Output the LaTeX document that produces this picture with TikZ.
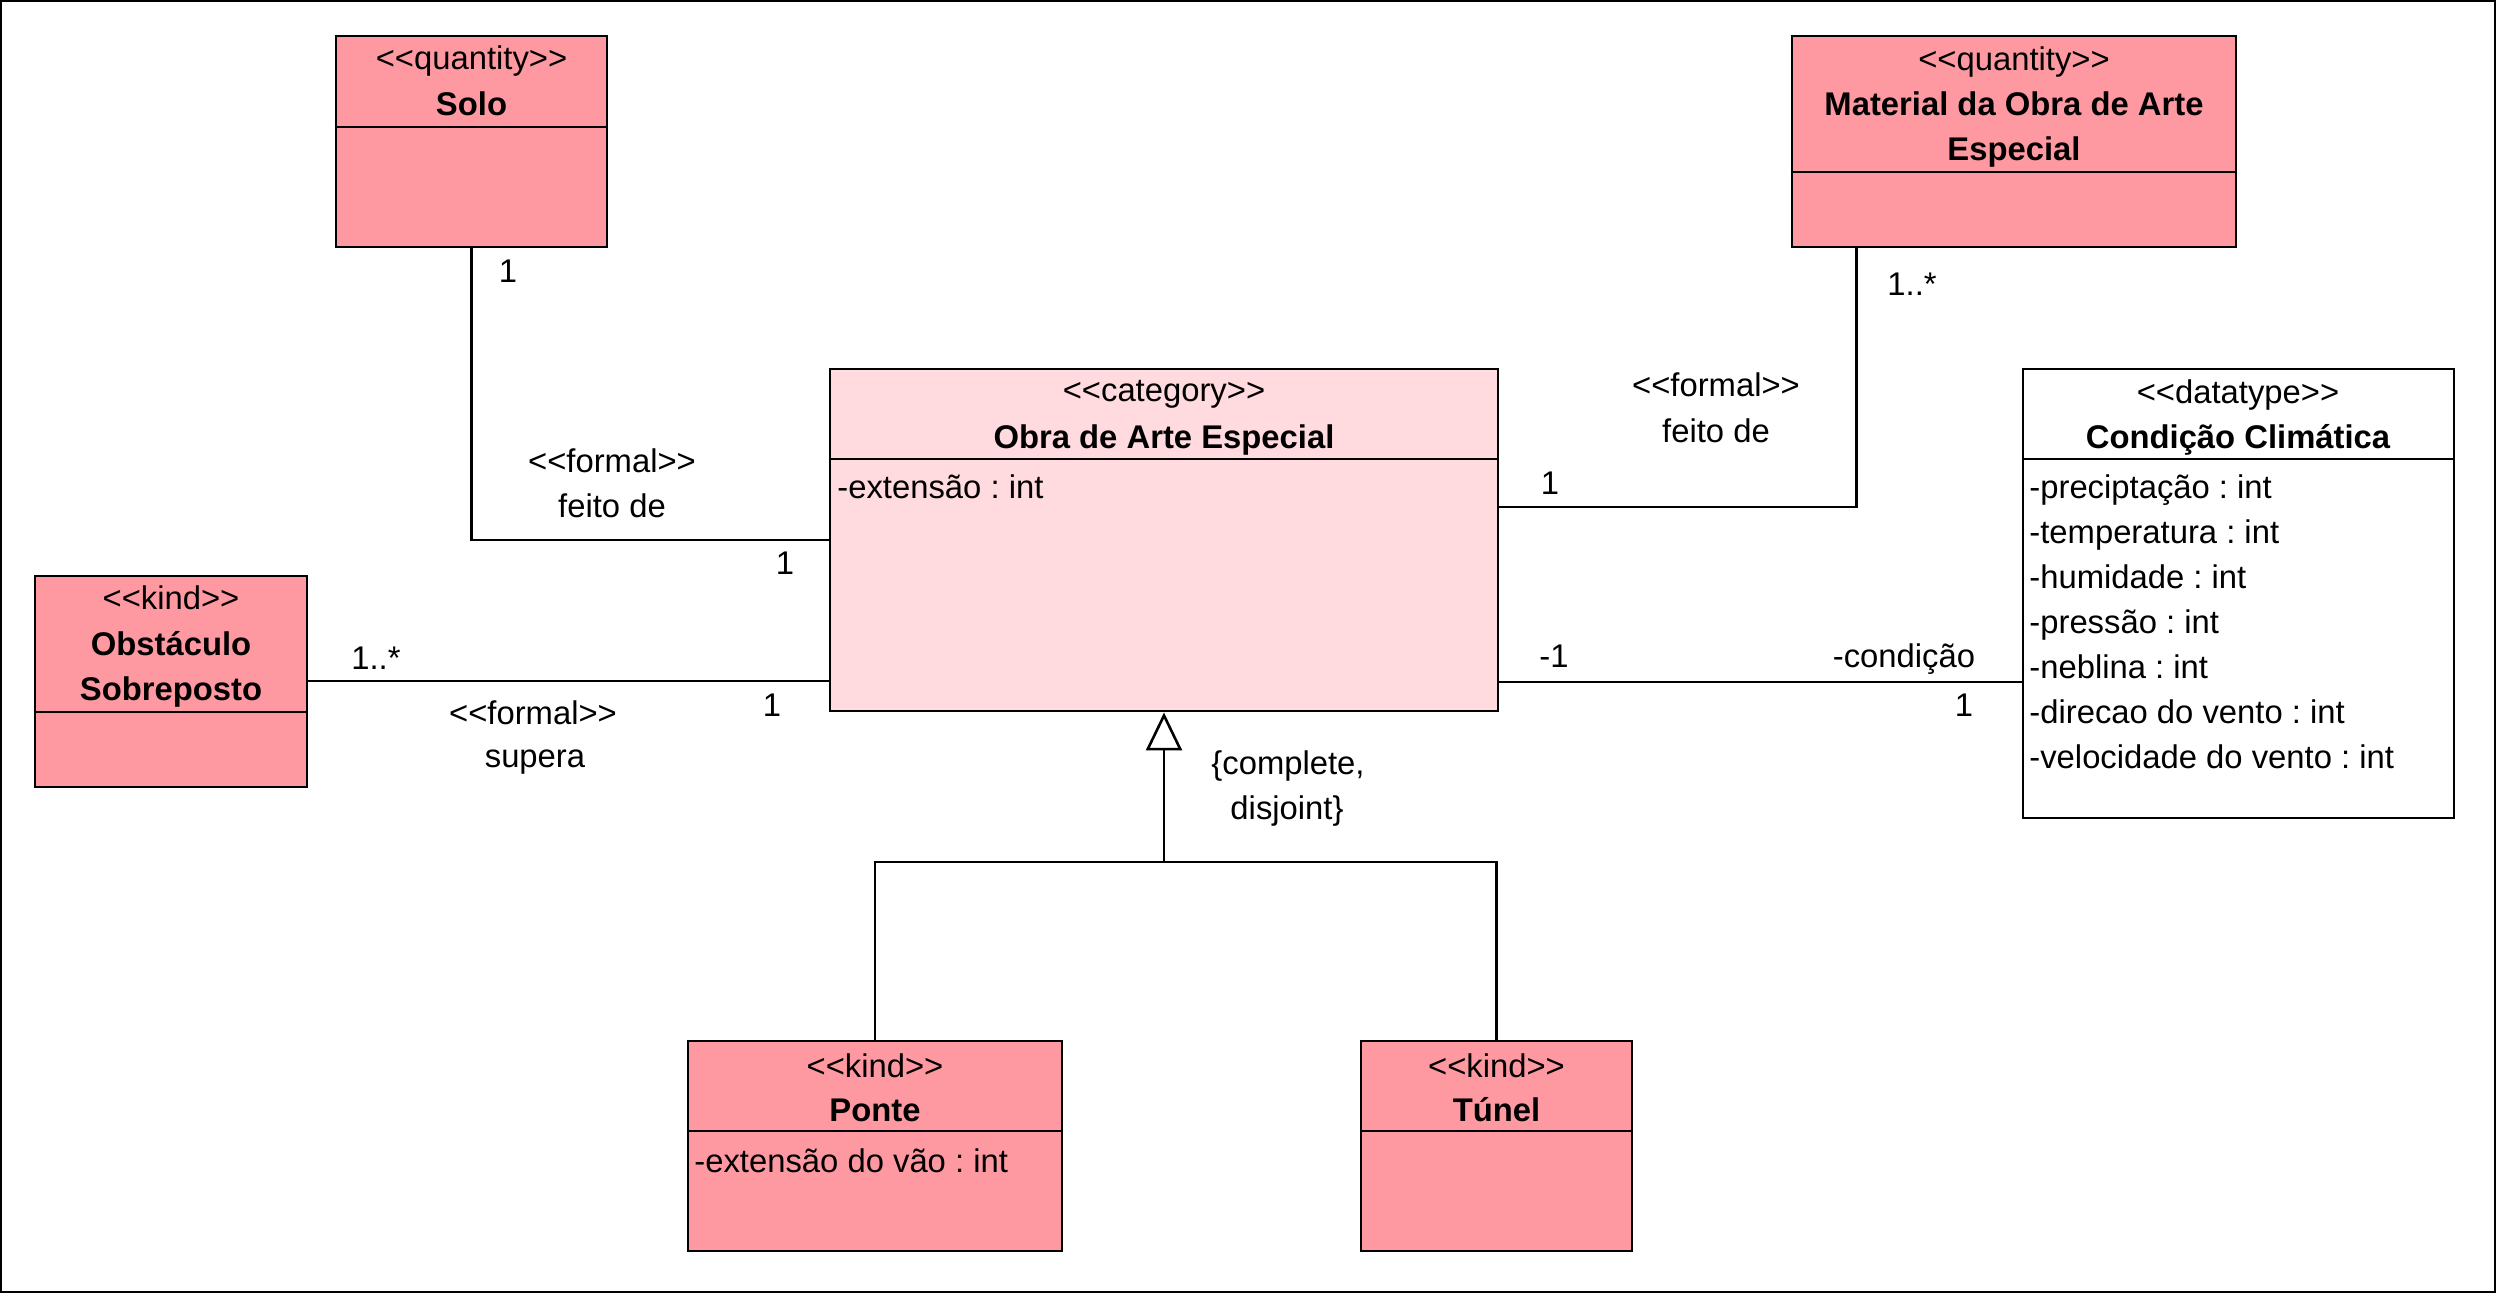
\documentclass[tikz,border=0pt]{standalone}
\usepackage{fontspec}
\setmainfont{Liberation Sans}
\usetikzlibrary{arrows.meta,fit}
\definecolor{kindpink}{HTML}{FF99A1}
\definecolor{catpink}{HTML}{FFDADF}
\newcommand\stereo[1]{<\kern0pt<#1>\kern0pt>}
\frenchspacing
\begin{document}
\begin{tikzpicture}[x=0.5pt,y=-0.5pt,
  box/.style={draw, line width=1.45pt, inner sep=0pt},
  divline/.style={line width=1.45pt},
  conn/.style={line width=1.3pt},
  txt/.style={font=\fontsize{16.4}{20}\selectfont\frenchspacing, inner sep=0pt, anchor=base},
  bold/.style={txt, font=\fontsize{16.4}{20}\selectfont\bfseries},
  attr/.style={txt, anchor=base west}]
\useasboundingbox (0,0) rectangle (2496,1293);
\draw[line width=1.3pt] (1,1) rectangle (2495,1292);

% Solo
\node[box, fill=kindpink, fit={(336,36) (607,247)}] (solo) {};
\draw[divline] (solo.west |- 0,127) -- (solo.east |- 0,127);
\node[txt] (soloS) at (471.5,70) {\stereo{quantity}};
\node[bold] (soloN) at (471.5,116) {Solo};

% Material
\node[box, fill=kindpink, fit={(1792,36) (2236,247)}] (mat) {};
\draw[divline] (mat.west |- 0,172) -- (mat.east |- 0,172);
\node[txt] (matS) at (2014,71) {\stereo{quantity}};
\node[bold] (matN1) at (2014,116) {Material da Obra de Arte};
\node[bold] (matN2) at (2014,161) {Especial};

% Obra de Arte Especial
\node[box, fill=catpink, fit={(830,369) (1498,711)}] (obra) {};
\draw[divline] (obra.west |- 0,459) -- (obra.east |- 0,459);
\node[txt] (obraS) at (1164,402) {\stereo{category}};
\node[bold] (obraN) at (1164,449) {Obra de Arte Especial};
\node[attr] (obraA) at (837,499) {-extensão : int};

% Condicao Climatica
\node[box, fill=white, fit={(2023,369) (2454,818)}] (cond) {};
\draw[divline] (cond.west |- 0,459) -- (cond.east |- 0,459);
\node[txt] (condS) at (2238,404) {\stereo{datatype}};
\node[bold] (condN) at (2238,449) {Condição Climática};
\node[attr] (condA1) at (2029,499) {-preciptação : int};
\node[attr] (condA2) at (2029,544) {-temperatura : int};
\node[attr] (condA3) at (2029,589) {-humidade : int};
\node[attr] (condA4) at (2029,634) {-pressão : int};
\node[attr] (condA5) at (2029,679) {-neblina : int};
\node[attr] (condA6) at (2029,724) {-direcao do vento : int};
\node[attr] (condA7) at (2029,769) {-velocidade do vento : int};

% Obstaculo Sobreposto
\node[box, fill=kindpink, fit={(35,576) (307,787)}] (obst) {};
\draw[divline] (obst.west |- 0,712) -- (obst.east |- 0,712);
\node[txt] (obstS) at (171,610) {\stereo{kind}};
\node[bold] (obstN1) at (171,656) {Obstáculo};
\node[bold] (obstN2) at (171,701) {Sobreposto};

% Ponte
\node[box, fill=kindpink, fit={(688,1041) (1062,1251)}] (ponte) {};
\draw[divline] (ponte.west |- 0,1131) -- (ponte.east |- 0,1131);
\node[txt] (ponteS) at (875,1077) {\stereo{kind}};
\node[bold] (ponteN) at (875,1121) {Ponte};
\node[attr] (ponteA) at (694,1172) {-extensão do vão : int};

% Tunel
\node[box, fill=kindpink, fit={(1361,1041) (1632,1251)}] (tunel) {};
\draw[divline] (tunel.west |- 0,1131) -- (tunel.east |- 0,1131);
\node[txt] (tunelS) at (1496.5,1077) {\stereo{kind}};
\node[bold] (tunelN) at (1496.5,1121) {Túnel};

% Solo -- Obra
\draw[conn] (solo.south) |- (obra.west |- 0,540);
\node[txt] (l1a) at (508,283) {1};
\node[txt] (l1b) at (612,473) {\stereo{formal}};
\node[txt] (l1c) at (612,518) {feito de};
\node[txt] (l1d) at (785,575) {1};

% Material -- Obra
\draw[conn] ([xshift=33pt]mat.south west) |- (obra.east |- 0,507);
\node[txt] (l2a) at (1912,296) {1..*};
\node[txt] (l2b) at (1716,397) {\stereo{formal}};
\node[txt] (l2c) at (1716,443) {feito de};
\node[txt] (l2d) at (1550,495) {1};

% Obstaculo -- Obra
\draw[conn] (obst.east |- 0,681) -- (obra.west |- 0,681);
\node[txt] (l3a) at (376,670) {1..*};
\node[txt] (l3b) at (533,725) {\stereo{formal}};
\node[txt] (l3c) at (535,768) {supera};
\node[txt] (l3d) at (772,717) {1};

% Obra -- Condicao
\draw[conn] (obra.east |- 0,682) -- (cond.west |- 0,682);
\node[txt] (l4a) at (1554,668) {-1};
\node[txt] (l4b) at (1904,668) {-condição};
\node[txt] (l4c) at (1964,717) {1};

% Generalization
\draw[conn] (ponte.north) |- (tunel.north |- 0,862) -- (tunel.north);
\draw[conn, -{Triangle[open, length=19pt, width=18pt]}] (obra.south |- 0,862) -- (obra.south);
\node[txt] (g1) at (1288,775) {\{complete,};
\node[txt] (g2) at (1287,820) {disjoint\}};
\end{tikzpicture}
\end{document}
